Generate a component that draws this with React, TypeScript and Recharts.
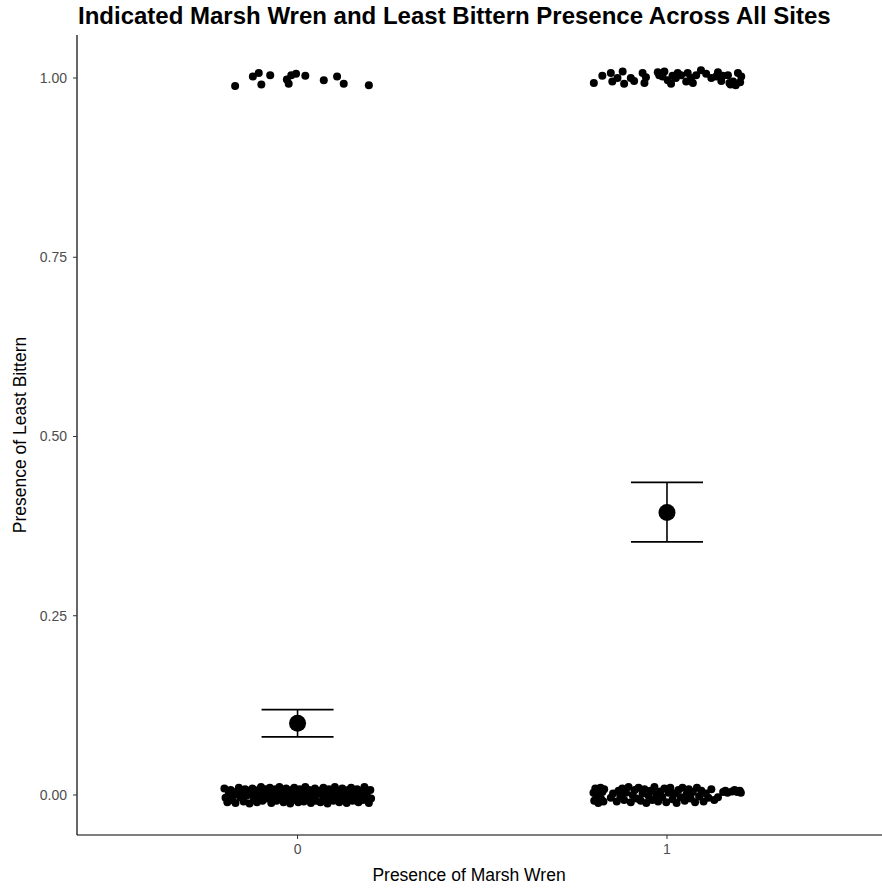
import React from "react";
import { ScatterChart, Scatter, XAxis, YAxis, ErrorBar } from "recharts";

// jittered observations: [x offset from group, presence value]
const wren0Bittern1 = [
  [-0.169, 0.989], [-0.121, 1.002], [-0.105, 1.007], [-0.098, 0.991], [-0.074, 1.004],
  [-0.024, 0.992], [-0.017, 1.004], [-0.004, 1.006], [-0.029, 0.998], [0.021, 1.003],
  [0.071, 0.997], [0.107, 1.002], [0.125, 0.992], [0.193, 0.99],
];

const wren1Bittern1 = [
  [-0.198, 0.993], [-0.175, 1.003], [-0.152, 1.007], [-0.148, 0.995], [-0.134, 1.0],
  [-0.12, 1.009], [-0.116, 0.992], [-0.098, 1.0], [-0.089, 0.996], [-0.066, 1.007],
  [-0.061, 0.993], [-0.057, 1.001], [-0.025, 1.008], [-0.021, 1.004], [-0.012, 1.002],
  [-0.007, 1.009], [0.002, 0.997], [0.011, 0.992], [0.015, 1.003], [0.024, 1.0],
  [0.029, 1.007], [0.038, 1.004], [0.052, 0.995], [0.056, 1.007], [0.065, 1.0],
  [0.07, 0.993], [0.079, 1.004], [0.092, 1.011], [0.106, 1.006], [0.12, 1.0],
  [0.133, 1.002], [0.138, 1.008], [0.147, 0.996], [0.151, 1.003], [0.165, 1.004],
  [0.169, 0.993], [0.179, 0.995], [0.192, 1.007], [0.201, 1.002], [0.172, 0.991],
  [0.186, 0.99], [0.198, 0.994],
];

const wren0Bittern0 = [
  [-0.198, 0.009], [-0.195, -0.004], [-0.19, -0.01], [-0.186, 0.002], [-0.181, 0.007],
  [-0.177, -0.007], [-0.172, 0.0], [-0.168, -0.011], [-0.164, 0.005], [-0.159, 0.01],
  [-0.155, -0.003], [-0.151, 0.003], [-0.146, -0.009], [-0.142, 0.008], [-0.138, -0.001],
  [-0.134, 0.006], [-0.13, -0.012], [-0.126, 0.001], [-0.122, 0.009], [-0.118, -0.006],
  [-0.114, 0.004], [-0.11, -0.01], [-0.106, 0.007], [-0.102, -0.002], [-0.099, 0.011],
  [-0.095, -0.008], [-0.091, 0.002], [-0.087, 0.008], [-0.083, -0.005], [-0.079, 0.0],
  [-0.075, 0.01], [-0.071, -0.011], [-0.068, 0.005], [-0.064, -0.003], [-0.06, 0.008],
  [-0.057, -0.008], [-0.053, 0.002], [-0.049, 0.011], [-0.046, -0.005], [-0.042, 0.006],
  [-0.038, -0.01], [-0.034, 0.0], [-0.031, 0.009], [-0.027, -0.006], [-0.023, 0.004],
  [-0.02, -0.012], [-0.016, 0.007], [-0.012, -0.002], [-0.009, 0.01], [-0.005, -0.007],
  [-0.001, 0.003], [0.002, -0.01], [0.006, 0.008], [0.01, -0.003], [0.013, 0.005],
  [0.017, -0.009], [0.021, 0.011], [0.024, 0.0], [0.028, -0.006], [0.032, 0.007],
  [0.036, -0.011], [0.039, 0.003], [0.043, -0.004], [0.047, 0.009], [0.05, -0.008],
  [0.054, 0.002], [0.058, 0.006], [0.062, -0.01], [0.066, 0.0], [0.07, 0.01],
  [0.073, -0.005], [0.077, 0.005], [0.081, -0.012], [0.085, 0.008], [0.089, -0.002],
  [0.093, 0.003], [0.097, -0.008], [0.101, 0.011], [0.105, -0.004], [0.109, 0.006],
  [0.113, -0.01], [0.117, 0.001], [0.121, 0.009], [0.125, -0.006], [0.129, 0.004],
  [0.133, -0.011], [0.137, 0.007], [0.141, -0.002], [0.145, 0.01], [0.149, -0.008],
  [0.153, 0.003], [0.157, -0.004], [0.161, 0.008], [0.165, -0.01], [0.169, 0.001],
  [0.173, 0.006], [0.177, -0.007], [0.181, 0.011], [0.185, -0.002], [0.189, 0.004],
  [0.193, -0.011], [0.197, 0.007], [0.199, -0.005],
];

const wren1Bittern0 = [
  [-0.199, 0.003], [-0.197, -0.008], [-0.194, 0.009], [-0.191, -0.002], [-0.188, 0.006],
  [-0.186, -0.011], [-0.183, 0.001], [-0.18, 0.01], [-0.178, -0.006], [-0.175, 0.004],
  [-0.172, -0.009], [-0.17, 0.008], [-0.152, -0.004], [-0.146, 0.002], [-0.136, -0.009],
  [-0.131, 0.006], [-0.126, -0.002], [-0.121, 0.009], [-0.116, -0.007], [-0.111, 0.003],
  [-0.104, 0.011], [-0.098, -0.01], [-0.093, 0.0], [-0.087, 0.007], [-0.082, -0.005],
  [-0.077, 0.01], [-0.071, -0.008], [-0.066, 0.002], [-0.061, 0.008], [-0.056, -0.011],
  [-0.05, -0.001], [-0.045, 0.006], [-0.04, -0.007], [-0.034, 0.011], [-0.029, 0.001],
  [-0.024, -0.009], [-0.018, 0.005], [-0.013, -0.003], [-0.007, 0.009], [-0.002, -0.01],
  [0.004, 0.003], [0.009, 0.01], [0.015, -0.006], [0.02, 0.002], [0.026, -0.011],
  [0.031, 0.007], [0.037, -0.003], [0.042, 0.01], [0.048, -0.008], [0.053, 0.001],
  [0.059, 0.008], [0.064, -0.005], [0.07, 0.004], [0.076, -0.01], [0.081, 0.01],
  [0.087, -0.002], [0.093, 0.006], [0.099, -0.009], [0.105, 0.002], [0.112, -0.004],
  [0.12, 0.008], [0.128, -0.007], [0.138, -0.003], [0.152, 0.004], [0.158, 0.006],
  [0.164, 0.003], [0.176, 0.005], [0.183, 0.007], [0.19, 0.004], [0.197, 0.006],
  [0.2, 0.003],
];

// group means with lower/upper error amounts
const groups = [0, 1];
const means = [0.1, 0.394];
const errLow = [0.019, 0.041];
const errHigh = [0.019, 0.042];

const toPoints = (group: number, arr: number[][]) =>
  arr.map(([dx, y]) => ({ x: group + dx, y }));

const jitterData = [
  ...toPoints(0, wren0Bittern1),
  ...toPoints(0, wren0Bittern0),
  ...toPoints(1, wren1Bittern1),
  ...toPoints(1, wren1Bittern0),
];

const meanData = groups.map((g, i) => ({
  x: g,
  y: means[i],
  err: [errLow[i], errHigh[i]],
}));

const font = "'Liberation Sans', Arial, Helvetica, sans-serif";

const SmallDot = (props: any) => <circle cx={props.cx} cy={props.cy} r={4} fill="#000" />;
const BigDot = (props: any) => <circle cx={props.cx} cy={props.cy} r={8.5} fill="#000" />;

export default function App() {
  return (
    <div style={{ position: "absolute", left: 0, top: 0, width: 882, height: 888, fontFamily: font, background: "#fff" }}>
      <div style={{ position: "absolute", left: 78, top: 2, fontSize: 24, fontWeight: "bold", color: "#000", whiteSpace: "nowrap" }}>
        Indicated Marsh Wren and Least Bittern Presence Across All Sites
      </div>
      <div
        style={{
          position: "absolute", left: 20, top: 435, fontSize: 17.5, color: "#000", whiteSpace: "nowrap",
          transform: "translate(-50%, -50%) rotate(-90deg)",
        }}
      >
        Presence of Least Bittern
      </div>
      <div
        style={{
          position: "absolute", left: 469, top: 875, fontSize: 17.5, color: "#000", whiteSpace: "nowrap",
          transform: "translate(-50%, -50%)",
        }}
      >
        Presence of Marsh Wren
      </div>
      <ScatterChart width={882} height={888} margin={{ top: 35, right: 0, bottom: 0, left: 0 }}>
        <XAxis
          type="number"
          dataKey="x"
          domain={[-0.597, 1.582]}
          allowDataOverflow
          ticks={[0, 1]}
          height={53}
          tickSize={4}
          tickMargin={5}
          axisLine={{ stroke: "#000", strokeWidth: 1.2 }}
          tickLine={{ stroke: "#333" }}
          tick={{ fill: "#4d4d4d", fontSize: 14, fontFamily: font }}
        />
        <YAxis
          type="number"
          dataKey="y"
          domain={[-0.0558, 1.06]}
          allowDataOverflow
          ticks={[0, 0.25, 0.5, 0.75, 1]}
          tickFormatter={(v: number) => v.toFixed(2)}
          width={77}
          tickSize={4}
          tickMargin={6}
          axisLine={{ stroke: "#000", strokeWidth: 1.2 }}
          tickLine={{ stroke: "#333" }}
          tick={{ fill: "#4d4d4d", fontSize: 14, fontFamily: font }}
        />
        <Scatter data={jitterData} shape={SmallDot} isAnimationActive={false} />
        <Scatter data={meanData} shape={BigDot} isAnimationActive={false}>
          <ErrorBar dataKey="err" direction="y" width={36} stroke="#000" strokeWidth={1.6} isAnimationActive={false} />
        </Scatter>
      </ScatterChart>
    </div>
  );
}
